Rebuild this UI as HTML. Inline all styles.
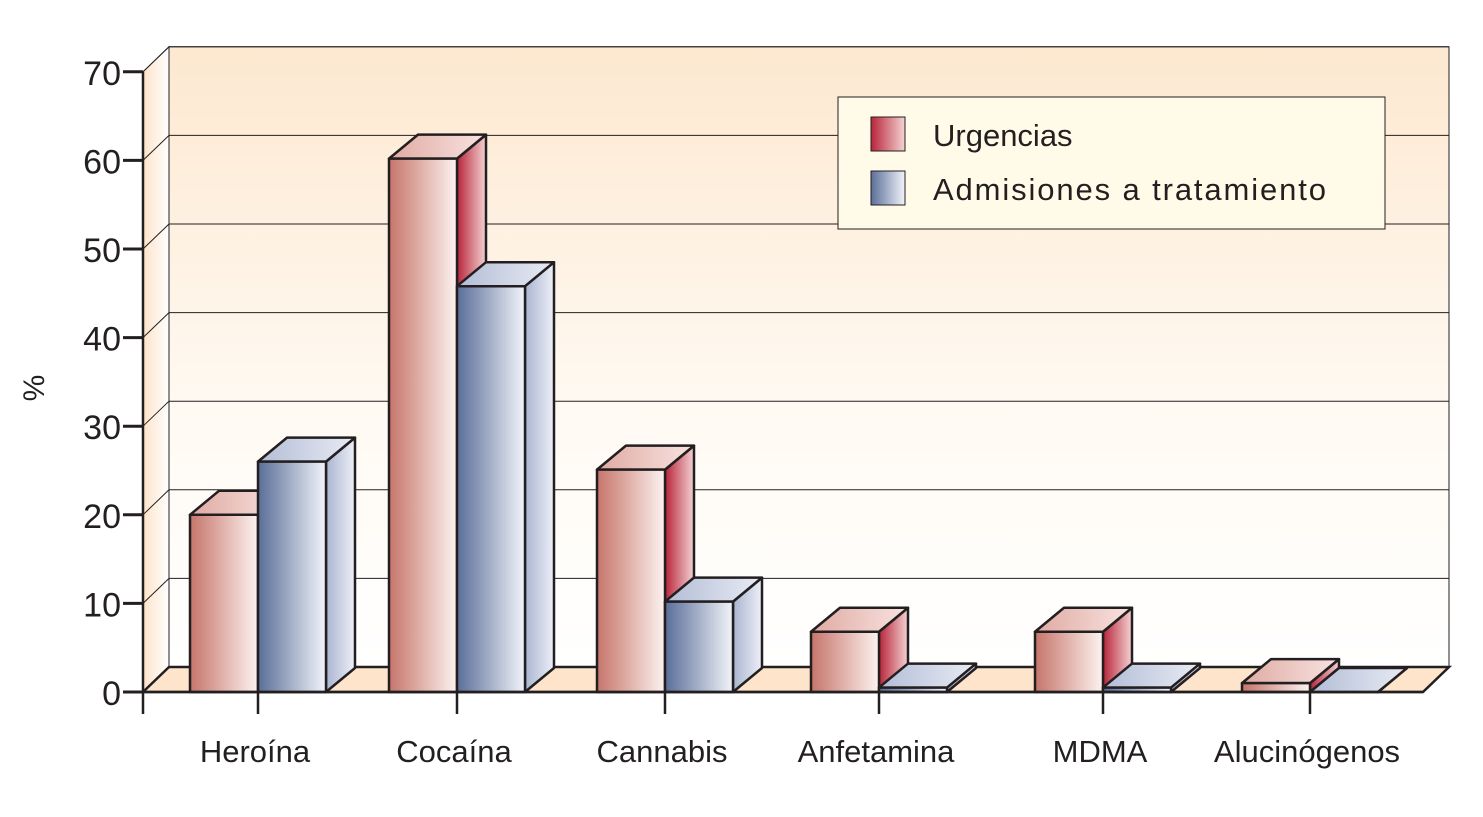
<!DOCTYPE html>
<html><head><meta charset="utf-8"><style>
body{margin:0;background:#fff;width:1483px;height:812px;overflow:hidden}
svg text{font-family:"Liberation Sans",sans-serif;fill:#231f20}
</style></head><body>
<svg id="chart" width="1483" height="812" viewBox="0 0 1483 812" xmlns="http://www.w3.org/2000/svg">
<defs>
<linearGradient id="wallG" x1="0" y1="0" x2="0" y2="1"><stop offset="0" stop-color="#fde8d0"/><stop offset="0.6" stop-color="#fffaf3"/><stop offset="1" stop-color="#ffffff"/></linearGradient>
<linearGradient id="lwallG" x1="0" y1="0" x2="1" y2="0"><stop offset="0" stop-color="#fde3c8"/><stop offset="1" stop-color="#ffffff"/></linearGradient>
<linearGradient id="redF" x1="0" y1="0" x2="1" y2="0"><stop offset="0" stop-color="#c6756a"/><stop offset="1" stop-color="#fdf3f1"/></linearGradient>
<linearGradient id="redS" x1="0" y1="0" x2="1" y2="0"><stop offset="0" stop-color="#b8243a"/><stop offset="1" stop-color="#f4d3d3"/></linearGradient>
<linearGradient id="redT" x1="0" y1="0" x2="1" y2="0"><stop offset="0" stop-color="#e0aaa3"/><stop offset="1" stop-color="#f8e3e0"/></linearGradient>
<linearGradient id="bluF" x1="0" y1="0" x2="1" y2="0"><stop offset="0" stop-color="#5a6e98"/><stop offset="1" stop-color="#f2f4fa"/></linearGradient>
<linearGradient id="bluS" x1="0" y1="0" x2="1" y2="0"><stop offset="0" stop-color="#a9b4d0"/><stop offset="1" stop-color="#eef0f8"/></linearGradient>
<linearGradient id="bluT" x1="0" y1="0" x2="1" y2="0"><stop offset="0" stop-color="#b3bdd6"/><stop offset="1" stop-color="#e8ebf4"/></linearGradient>
</defs>
<g id="frame"></g>
<g id="bars"></g>
<g id="axes"></g>
<g>
<rect x="838" y="97" width="547" height="132" fill="#fffbe8" stroke="#231f20" stroke-width="1"/>
<rect x="871" y="117" width="34" height="34" fill="url(#redS)" stroke="#231f20" stroke-width="1"/>
<text x="933" y="146" font-size="31">Urgencias</text>
<rect x="871" y="171" width="34" height="34" fill="url(#bluF)" stroke="#231f20" stroke-width="1"/>
<text x="933" y="200" font-size="31" textLength="393">Admisiones a tratamiento</text>
</g>
<text x="0" y="0" font-size="30" transform="translate(44,388) rotate(-90)" text-anchor="middle">%</text>
</svg>
<script>
const categories=["Heroína","Cocaína","Cannabis","Anfetamina","MDMA","Alucinógenos"];
const urgencias=[20,60.2,25.1,6.8,6.8,1];
const admisiones=[26,45.8,10.2,0.5,0.5,0];
const yTicks=[0,10,20,30,40,50,60,70];
const centers=[258,457,665,879,1103,1310];
const NS="http://www.w3.org/2000/svg";
const y0=692, pxPer=8.86, x0=143, xR=1423, WD=26, WH=25, BD=29, BH=24, BW=68;
const y=v=>y0-v*pxPer;
function mk(tag,attrs,parent){const e=document.createElementNS(NS,tag);for(const k in attrs)e.setAttribute(k,attrs[k]);parent.appendChild(e);return e;}
const frame=document.getElementById('frame'),bars=document.getElementById('bars'),axes=document.getElementById('axes');
const yTop=y(70);
const bw=mk('rect',{x:x0+WD,y:yTop-WH,width:xR-x0,height:y0-yTop,fill:'url(#wallG)',stroke:'#231f20','stroke-width':1},frame);


const lw=mk('polygon',{points:`${x0},${yTop} ${x0+WD},${yTop-WH} ${x0+WD},${y0-WH} ${x0},${y0}`,fill:'url(#lwallG)',stroke:'#231f20','stroke-width':1},frame);


yTicks.forEach(t=>{if(t===0)return;const g=mk('polyline',{points:`${x0},${y(t)} ${x0+WD},${y(t)-WH} ${xR+WD},${y(t)-WH}`,fill:'none',stroke:'#231f20','stroke-width':1},frame);

});
const fl=mk('polygon',{points:`${x0},${y0} ${x0+WD},${y0-WH} ${xR+WD},${y0-WH} ${xR},${y0}`,fill:'#fde4cb',stroke:'#231f20','stroke-width':2.5},frame);


function bar(x,v,f,s,t,name){const g=mk('g',{},bars);


const yt=y(v);const st={stroke:'#231f20','stroke-width':2.5,'stroke-linejoin':'round'};
mk('polygon',Object.assign({points:`${x+BW},${y0} ${x+BW+BD},${y0-BH} ${x+BW+BD},${yt-BH} ${x+BW},${yt}`,fill:s},st),g);
mk('polygon',Object.assign({points:`${x},${yt} ${x+BD},${yt-BH} ${x+BW+BD},${yt-BH} ${x+BW},${yt}`,fill:t},st),g);
mk('rect',Object.assign({x:x,y:yt,width:BW,height:y0-yt,fill:f},st),g);}
categories.forEach((c,i)=>{const cx=centers[i];
bar(cx-BW,urgencias[i],'url(#redF)','url(#redS)','url(#redT)','bar-urgencias-'+i);
bar(cx,admisiones[i],'url(#bluF)','url(#bluS)','url(#bluT)','bar-admisiones-'+i);
const tk=mk('line',{x1:cx,y1:y0,x2:cx,y2:y0+22,stroke:'#231f20','stroke-width':2.5},axes);


const lb=mk('text',{x:cx-3,y:762,'font-size':31,'text-anchor':'middle'},axes);lb.textContent=c;

});
const ya=mk('line',{x1:x0,y1:yTop,x2:x0,y2:y0+22,stroke:'#231f20','stroke-width':2.5},axes);


const xa=mk('line',{x1:x0,y1:y0,x2:xR,y2:y0,stroke:'#231f20','stroke-width':2.5},axes);


yTicks.forEach(t=>{const l=mk('line',{x1:x0-20,y1:y(t),x2:x0,y2:y(t),stroke:'#231f20','stroke-width':3},axes);


const tx=mk('text',{x:x0-22,y:y(t)+13,'font-size':34,'text-anchor':'end'},axes);tx.textContent=t;

});
</script>
</body></html>
